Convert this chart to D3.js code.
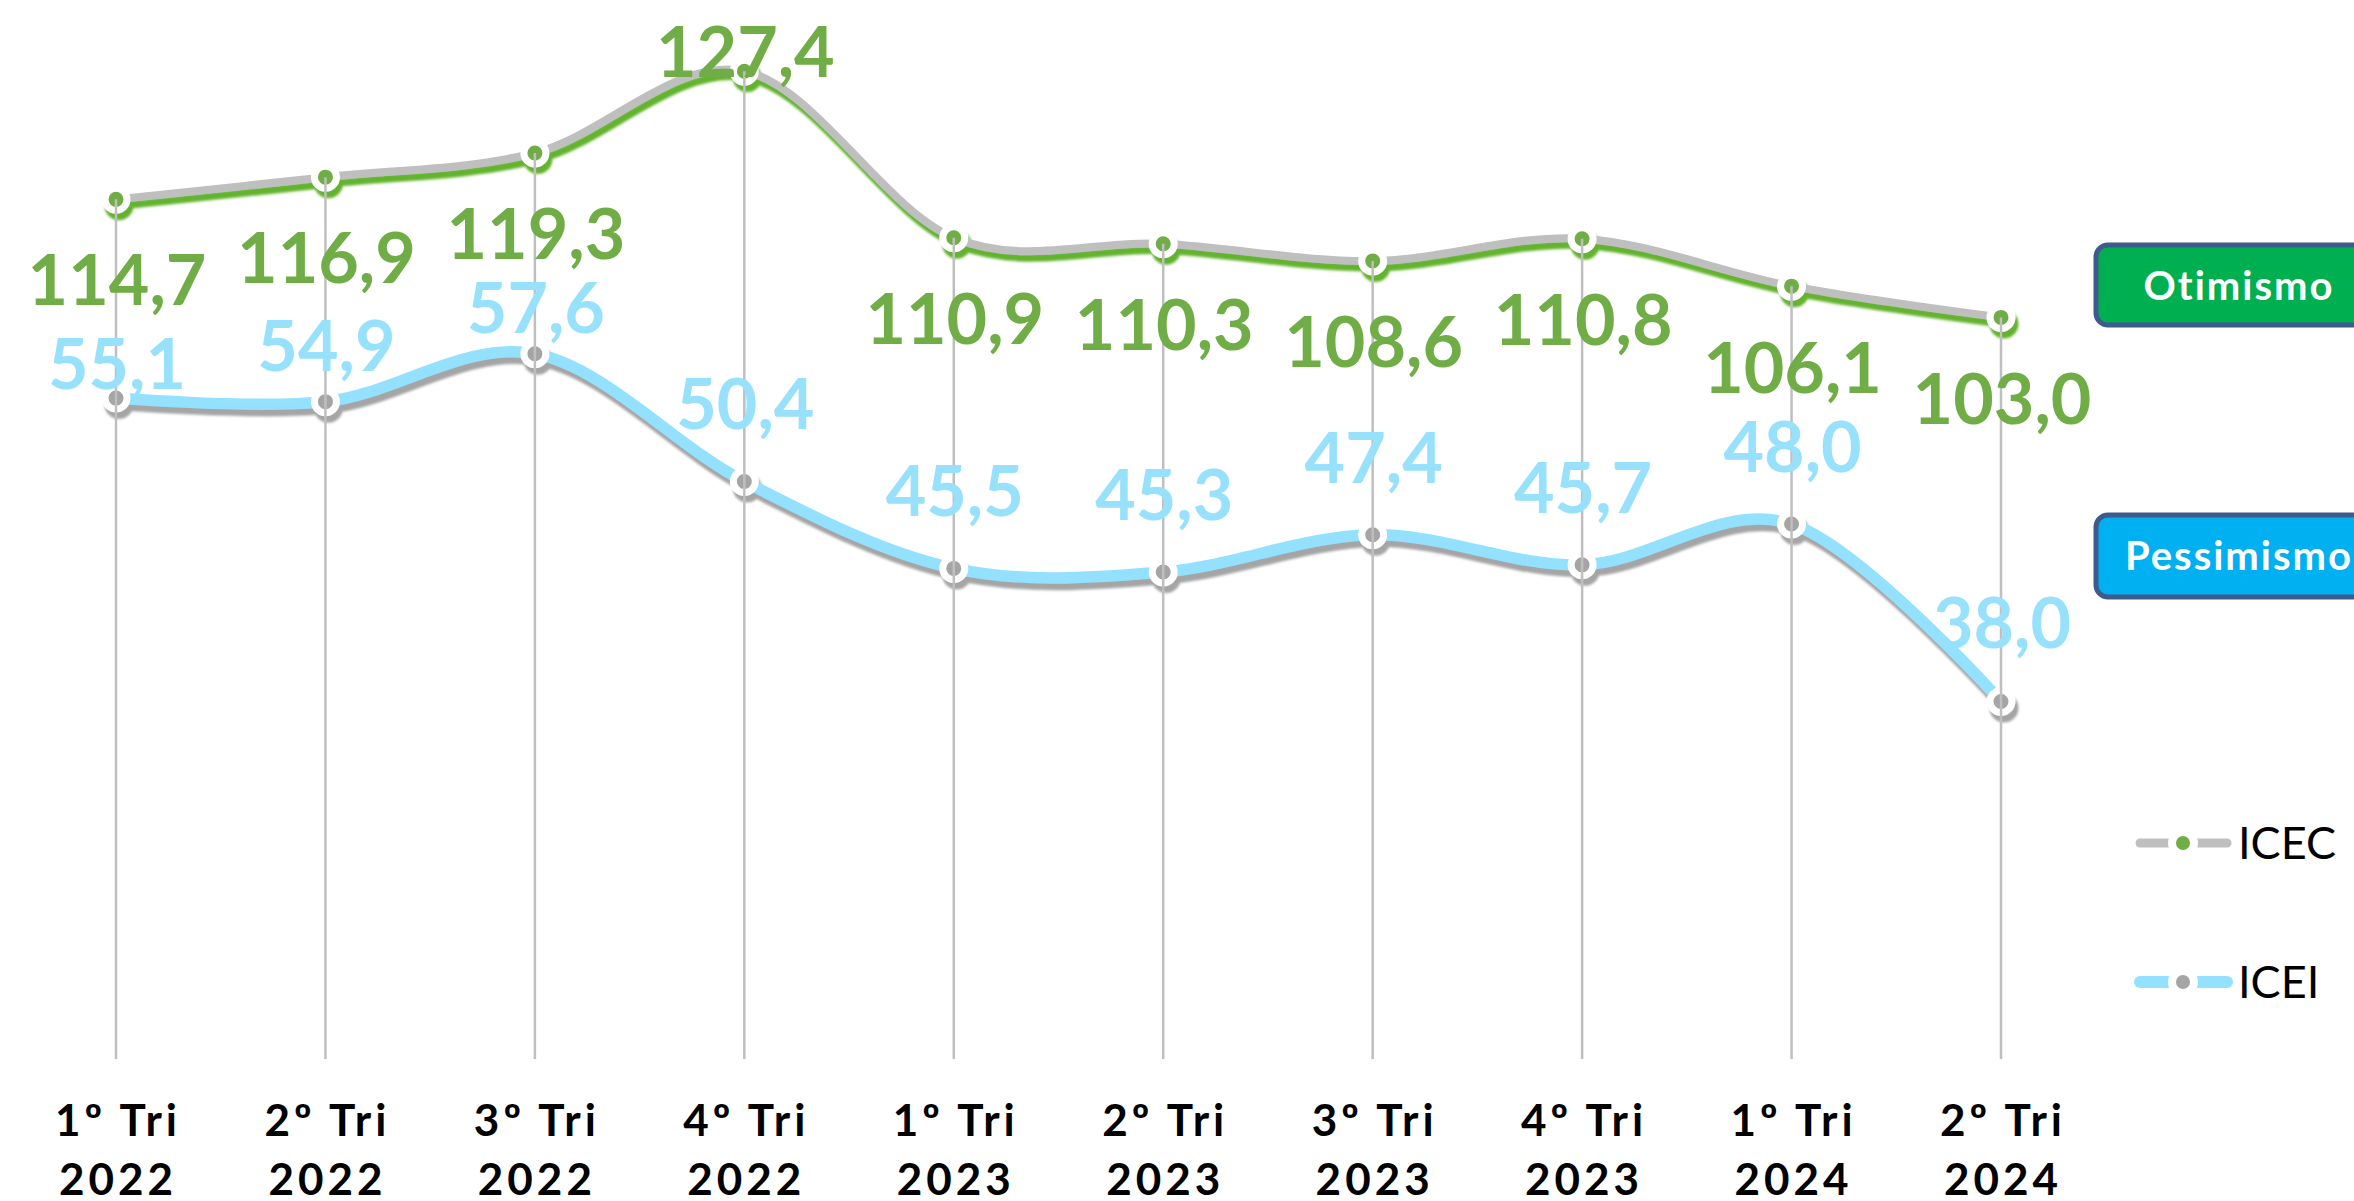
<html>
<head>
<meta charset="utf-8">
<script src="https://d3js.org/d3.v7.min.js"></script>
<style>
body {
	margin: 0;
	background: #fff;
}
</style>
</head>
<body>

<div id="chart"></div>

<script>
	var categories = ["1º Tri 2022", "2º Tri 2022", "3º Tri 2022", "4º Tri 2022", "1º Tri 2023",
		"2º Tri 2023", "3º Tri 2023", "4º Tri 2023", "1º Tri 2024", "2º Tri 2024"];
	var icec = [114.7, 116.9, 119.3, 127.4, 110.9, 110.3, 108.6, 110.8, 106.1, 103.0];
	var icei = [55.1, 54.9, 57.6, 50.4, 45.5, 45.3, 47.4, 45.7, 48.0, 38.0];
	var seriesNames = ["ICEC", "ICEI"];
	var boxLabels = ["Otimismo", "Pessimismo"];

	// label placement (moved by hand in the original)
	var icecLabelDy = [106, 106, 106, 6, 106, 106, 106, 106, 107, 107];
	var iceiLabelDy = [-9, -31, -21, -52, -52, -52, -52, -52, -52, -53];

	var width = 2354, height = 1201;
	var plot = {left: 116, right: 2001, top: 45, bottom: 1059};

	var comma = d3.formatLocale({decimal: ",", thousands: ".", grouping: [3], currency: ["R$", ""]}).format(".1f");

	var svg = d3.select("#chart")
		.append("svg")
		.attr("width", width)
		.attr("height", height)
		.style("display", "block");

	var defs = svg.append("defs");
	function shadow(id, color) {
		defs.append("filter")
			.attr("id", id)
			.attr("x", "-20%").attr("y", "-20%")
			.attr("width", "140%").attr("height", "140%")
			.append("feDropShadow")
			.attr("dx", 3).attr("dy", 6.5)
			.attr("stdDeviation", 0.9)
			.attr("flood-color", color)
			.attr("flood-opacity", 1);
	}
	shadow("shGreen", "#63B32E");
	shadow("shGrey", "#A5A5A5");

	var x = d3.scalePoint()
		.domain(categories)
		.range([plot.left, plot.right]);

	var yL = d3.scaleLinear()
		.domain([29.5, 130])
		.range([plot.bottom, plot.top]);

	var yR = d3.scaleLinear()
		.domain([17.85, 75])
		.range([plot.bottom, plot.top]);

	var curve = d3.curveCardinal.tension(0);

	function series(values, y, lineColor, lineWidth, dotColor, filterId) {
		var g = svg.append("g").attr("filter", "url(#" + filterId + ")");
		var line = d3.line()
			.x((d, i) => x(categories[i]))
			.y(d => y(d))
			.curve(curve);
		g.append("path")
			.datum(values)
			.attr("d", line)
			.attr("fill", "none")
			.attr("stroke", lineColor)
			.attr("stroke-width", lineWidth)
			.attr("stroke-linecap", "round");
		g.selectAll("circle")
			.data(values)
			.join("circle")
			.attr("cx", (d, i) => x(categories[i]))
			.attr("cy", d => y(d))
			.attr("r", 11)
			.attr("fill", dotColor)
			.attr("stroke", "#fff")
			.attr("stroke-width", 7);
	}

	series(icec, yL, "#BFBFBF", 8, "#70AD47", "shGreen");
	series(icei, yR, "#93E1FE", 11.5, "#A5A5A5", "shGrey");

	// drop lines, from the ICEC point down to the axis
	svg.append("g")
		.selectAll("line")
		.data(categories)
		.join("line")
		.attr("x1", d => x(d))
		.attr("x2", d => x(d))
		.attr("y1", (d, i) => yL(icec[i]))
		.attr("y2", plot.bottom)
		.attr("stroke", "#BFBFBF")
		.attr("stroke-width", 2.5);

	function labels(values, y, dy, color) {
		svg.append("g")
			.selectAll("text")
			.data(values)
			.join("text")
			.attr("x", (d, i) => x(categories[i]) + 1)
			.attr("y", (d, i) => y(d) + dy[i])
			.attr("text-anchor", "middle")
			.style("font-family", "Lato, 'Open Sans', sans-serif")
			.style("font-weight", "bold")
			.style("font-size", "70px")
			.style("fill", color)
			.text(d => comma(d));
	}

	labels(icec, yL, icecLabelDy, "#70AD47");
	labels(icei, yR, iceiLabelDy, "#97E1FC");

	// category axis, two lines per tick
	var xAxis = svg.append("g")
		.selectAll("text")
		.data(categories)
		.join("text")
		.attr("text-anchor", "middle")
		.style("font-family", "Lato, 'Open Sans', sans-serif")
		.style("font-weight", "bold")
		.style("font-size", "44px")
		.style("letter-spacing", "4px")
		.style("fill", "#000");
	xAxis.append("tspan")
		.attr("x", d => x(d) + 2)
		.attr("y", 1136)
		.text(d => d.slice(0, d.lastIndexOf(" ")));
	xAxis.append("tspan")
		.attr("x", d => x(d) + 2)
		.attr("y", 1195)
		.text(d => d.slice(d.lastIndexOf(" ") + 1));

	// boxes on the right
	var boxes = svg.append("g")
		.selectAll("g")
		.data(boxLabels)
		.join("g")
		.attr("transform", (d, i) => "translate(2096," + [245, 515][i] + ")");
	boxes.append("rect")
		.attr("width", 290)
		.attr("height", (d, i) => [80, 82][i])
		.attr("rx", 12)
		.attr("fill", (d, i) => ["#00B050", "#00B0F0"][i])
		.attr("stroke", "#3D5C8C")
		.attr("stroke-width", 5);
	boxes.append("text")
		.attr("x", 143)
		.attr("y", 55)
		.attr("text-anchor", "middle")
		.style("font-family", "Lato, 'Open Sans', sans-serif")
		.style("font-weight", "bold")
		.style("font-size", "40px")
		.style("letter-spacing", "2px")
		.style("fill", "#fff")
		.text(d => d);

	// legend
	var legendStyle = [
		{line: "#BFBFBF", lw: 9, dot: "#70AD47", y: 843},
		{line: "#93E1FE", lw: 12, dot: "#A5A5A5", y: 982}
	];
	var legend = svg.append("g")
		.selectAll("g")
		.data(seriesNames)
		.join("g")
		.attr("transform", (d, i) => "translate(0," + legendStyle[i].y + ")");
	legend.append("line")
		.attr("x1", 2140).attr("x2", 2227)
		.attr("stroke", (d, i) => legendStyle[i].line)
		.attr("stroke-width", (d, i) => legendStyle[i].lw)
		.attr("stroke-linecap", "round");
	legend.append("circle")
		.attr("cx", 2183)
		.attr("r", 11)
		.attr("fill", (d, i) => legendStyle[i].dot)
		.attr("stroke", "#fff")
		.attr("stroke-width", 8);
	legend.append("text")
		.attr("x", 2238)
		.attr("y", 16)
		.style("font-family", "Lato, 'Open Sans', sans-serif")
		.style("font-size", "45px")
		.style("fill", "#000")
		.text(d => d);
</script>

</body>
</html>
